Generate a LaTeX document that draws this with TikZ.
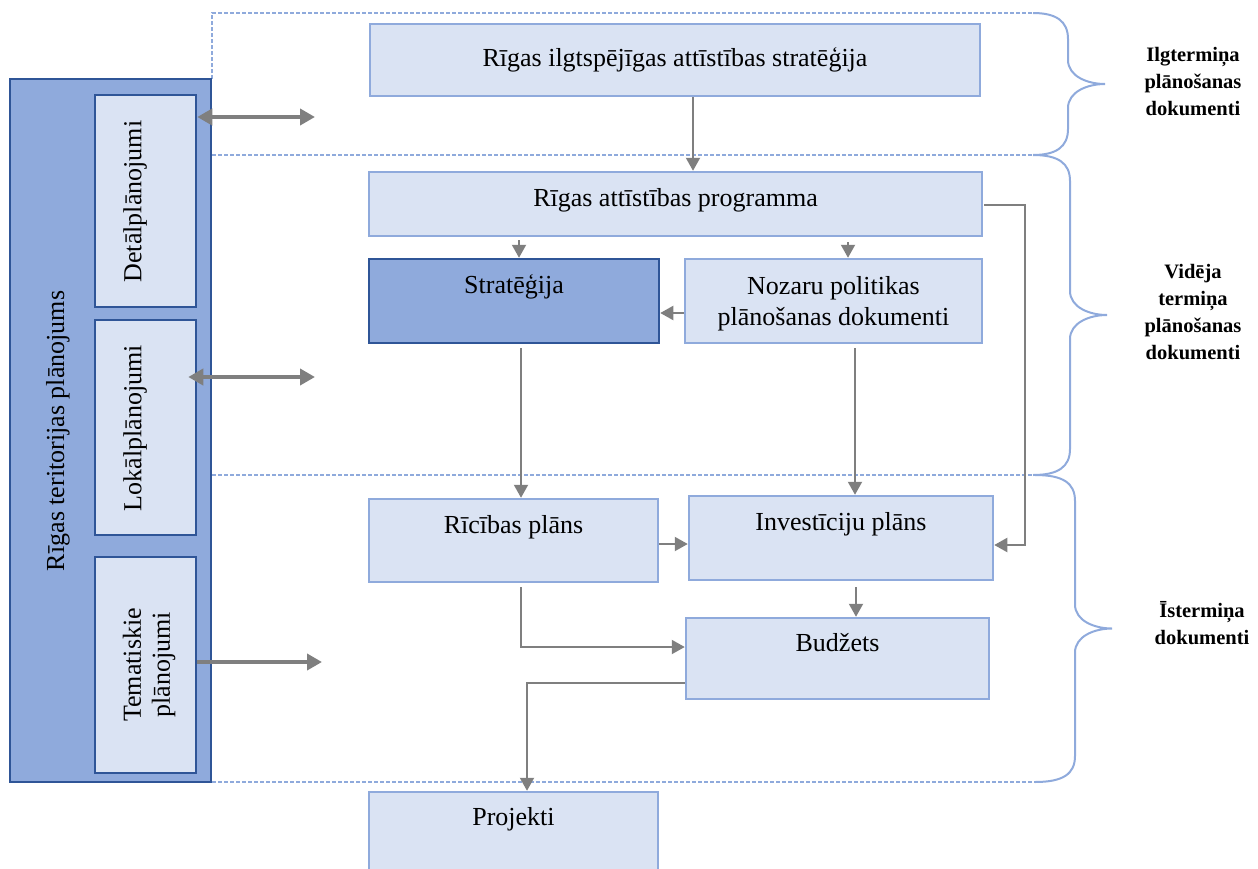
\documentclass[tikz,border=0pt]{standalone}
\usepackage{fontspec}
\setmainfont{Liberation Serif}
\usetikzlibrary{arrows.meta,calc}

\definecolor{paleblue}{HTML}{DAE3F3}
\definecolor{midblue}{HTML}{8FAADC}
\definecolor{deepblue}{HTML}{2F5597}
\definecolor{arrowgray}{HTML}{7F7F7F}

\tikzset{
  lightbox/.style={draw=midblue, fill=paleblue, line width=2.5pt, inner sep=0pt},
  darkbox/.style={draw=deepblue, fill=midblue, line width=2.5pt, inner sep=0pt},
  boxtext/.style={font=\fontsize{26}{31}\selectfont, anchor=base, inner sep=0pt, align=center},
  twolinetext/.style={font=\fontsize{26}{31}\selectfont, anchor=north, inner sep=0pt, align=center},
  sidetext/.style={font=\fontsize{26}{29}\selectfont, rotate=90, inner sep=0pt, align=center},
  tag/.style={font=\fontsize{20.5}{27}\selectfont\bfseries, align=center, inner sep=0pt},
  flow/.style={draw=arrowgray, line width=2pt, -{Triangle[length=13pt,width=14pt]}},
  bigtip/.tip={Triangle[length=15pt,width=16pt]},
  bigflow/.style={draw=arrowgray, line width=4.5pt},
  band/.style={draw=midblue, line width=1.4pt, dash pattern=on 4pt off 2pt},
  bracket/.style={draw=midblue, line width=2pt},
}

% curly bracket: #1 x of ends, #2 top y, #3 bottom y, #4 x of spine, #5 x of tip
\newcommand\drawbracket[5]{%
  \draw[bracket] (#1,#2) .. controls ({#4-12},#2) and (#4,{#2+8}) .. (#4,{#2+26})
    -- (#4,{(#2+#3)/2-24})
    .. controls (#4,{(#2+#3)/2-8}) and ({#5-18},{(#2+#3)/2}) .. (#5,{(#2+#3)/2})
    .. controls ({#5-18},{(#2+#3)/2}) and (#4,{(#2+#3)/2+8}) .. (#4,{(#2+#3)/2+24})
    -- (#4,{#3-26})
    .. controls (#4,{#3-8}) and ({#4-12},#3) .. (#1,#3);}

\begin{document}
\begin{tikzpicture}[x=1pt,y=-1pt]
\path[use as bounding box] (0,0) rectangle (1258,868);
\clip (0,0) rectangle (1258,868);

% planning horizon bands
\draw[band] (212,79) -- (212,13) -- (1033,13);
\draw[band] (212,155) -- (1033,155);
\draw[band] (212,475) -- (1035,475);
\draw[band] (212,782) -- (1040,782);

\drawbracket{1033}{13}{155}{1068}{1105}
\drawbracket{1033}{155}{475}{1070}{1107}
\drawbracket{1035}{475}{782}{1075}{1112}

\node[tag] (longterm) at (1193,82) {Ilgtermiņa\\plānošanas\\dokumenti};
\node[tag] (midterm) at (1193,312) {Vidēja\\termiņa\\plānošanas\\dokumenti};
\node[tag] (shortterm) at (1202,623) {Īstermiņa\\dokumenti};

% territorial planning column
\node[darkbox, minimum width=201pt, minimum height=703pt] (outer) at (110.5,430.5) {};
\node[lightbox, draw=deepblue, minimum width=101pt, minimum height=212pt] (det) at (145.5,201) {};
\node[lightbox, draw=deepblue, minimum width=101pt, minimum height=215pt] (lok) at (145.5,427.5) {};
\node[lightbox, draw=deepblue, minimum width=101pt, minimum height=216pt] (tem) at (145.5,665) {};
\node[sidetext] (outert) at (58,431) {Rīgas teritorijas plānojums};
\node[sidetext] (dett) at (135,201.5) {Detālplānojumi};
\node[sidetext] (lokt) at (135,428) {Lokālplānojumi};
\node[sidetext] (temt) at (149,665) {Tematiskie\\plānojumi};

% document boxes
\node[lightbox, minimum width=610pt, minimum height=72pt] (b1) at (675,60) {};
\node[lightbox, minimum width=613pt, minimum height=64pt] (b2) at (675.5,204) {};
\node[darkbox, minimum width=290pt, minimum height=84pt] (str) at (514,301) {};
\node[lightbox, minimum width=297pt, minimum height=84pt] (noz) at (833.5,301) {};
\node[lightbox, minimum width=289pt, minimum height=83pt] (ric) at (513.5,540.5) {};
\node[lightbox, minimum width=304pt, minimum height=84pt] (inv) at (841,538) {};
\node[lightbox, minimum width=303pt, minimum height=81pt] (bud) at (837.5,658.5) {};
\node[lightbox, minimum width=289pt, minimum height=88pt] (proj) at (513.5,836) {};

\node[boxtext] (b1t) at ($(b1.north)+(0,44)$) {Rīgas ilgtspējīgas attīstības stratēģija};
\node[boxtext] (b2t) at ($(b2.north)+(0,36)$) {Rīgas attīstības programma};
\node[boxtext] (strt) at ($(str.north)+(0,36)$) {Stratēģija};
\node[twolinetext] (nozt) at ($(noz.north)+(0,19)$) {Nozaru politikas\\plānošanas dokumenti};
\node[boxtext] (rict) at ($(ric.north)+(0,36)$) {Rīcības plāns};
\node[boxtext] (invt) at ($(inv.north)+(0,36)$) {Investīciju plāns};
\node[boxtext] (budt) at ($(bud.north)+(0,35)$) {Budžets};
\node[boxtext] (projt) at ($(proj.north)+(0,35)$) {Projekti};

% links to the planning documents
\coordinate (detend) at (315,117);
\coordinate (lokend) at (315,377);
\coordinate (temend) at (322,662);
\draw[bigflow, bigtip-bigtip] (det.east |- detend) -- (detend);
\draw[bigflow, bigtip-bigtip] ($(lok.east |- lokend)+(-9,0)$) -- (lokend);
\draw[bigflow, -bigtip] (tem.east |- temend) -- (temend);

% flow between documents
\draw[flow] ($(b1.south)+(18,0)$) -- ($(b2.north)+(17.5,0)$);
\draw[flow] ($(b2.south -| str.north)+(5,3)$) -- ($(str.north)+(5,0)$);
\draw[flow] ($(b2.south -| noz.north)+(14.5,5)$) -- ($(noz.north)+(14.5,0)$);
\draw[flow] ($(noz.west)+(0,12)$) -- ($(str.east)+(0,12)$);
\draw[flow] ($(str.south)+(7,4)$) -- ($(ric.north)+(7.5,0)$);
\draw[flow] ($(noz.south)+(21.5,4)$) -- ($(inv.north)+(14,0)$);
\draw[flow] ($(b2.east)+(1,1)$) -- ++(41,0) |- ($(inv.east)+(0,7)$);
\draw[flow] ($(ric.east)+(0,3.5)$) -- ($(inv.west)+(0,6)$);
\draw[flow] ($(inv.south)+(15,6)$) -- ($(bud.north)+(18.5,0)$);
\draw[flow] ($(ric.south)+(7.5,4)$) |- ($(bud.west)+(0,-11.5)$);
\draw[flow] ($(bud.west)+(0,24.5)$) -| ($(proj.north)+(13.5,0)$);
\end{tikzpicture}
\end{document}
